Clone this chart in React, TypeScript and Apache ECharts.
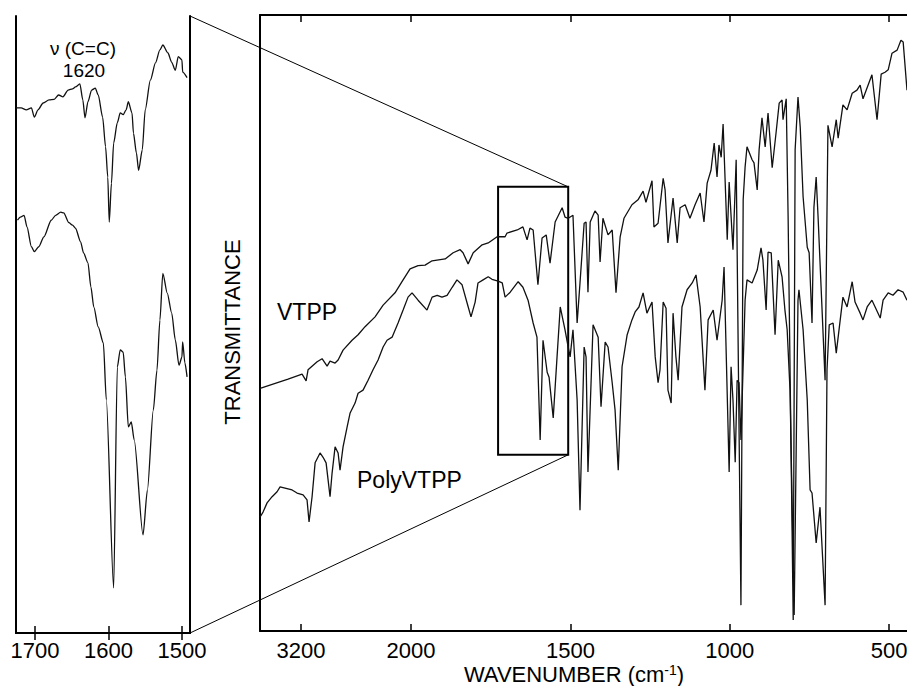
import { useEffect, useRef } from 'react';
import * as echarts from 'echarts';

// Main spectrum, VTPP (wavenumber cm-1, transmittance in % of frame height)
const vtppWn = [3647,3342,3189,3145,3124,3025,2971,2916,2884,2829,2796,2742,2644,2578,2502,2393,2305,2175,2087,2011,1978,1956,1934,1893,1868,1846,1837,1821,1805,1777,1758,1730,1705,1699,1667,1649,1636,1627,1617,1602,1589,1576,1564,1548,1526,1517,1507,1492,1479,1470,1457,1451,1445,1438,1423,1413,1407,1398,1382,1369,1357,1344,1332,1307,1288,1272,1263,1244,1238,1225,1209,1203,1194,1178,1165,1156,1140,1125,1109,1093,1081,1071,1059,1049,1040,1034,1027,1021,1008,1002,990,980,965,958,952,946,930,924,914,908,899,889,880,867,855,845,836,833,823,817,801,795,786,779,770,757,751,742,736,729,723,701,692,679,666,660,645,632,616,601,591,582,554,538,525,513,503,491,475,463,456,444];
const vtppT = [39.4,40.9,41.7,40.6,42.4,43.7,44.2,43.0,43.8,43.5,44.0,45.6,47.2,48.1,49.4,51.0,52.9,54.9,57.0,58.8,59.3,59.4,60.1,60.4,61.4,61.9,61.4,59.6,61.4,62.7,63.0,64.0,64.0,64.6,65.1,65.6,63.5,65.4,65.1,56.2,63.8,64.3,59.7,66.4,68.7,67.2,67.0,67.5,50.0,56.5,66.2,66.4,55.0,66.4,68.2,67.5,59.9,67.0,64.3,65.1,54.9,64.0,67.0,69.2,70.0,71.4,69.6,73.1,65.6,66.2,73.5,71.6,63.0,70.3,63.0,68.7,69.2,67.0,69.2,71.1,66.4,72.7,74.8,79.2,73.7,78.9,76.9,82.3,63.5,72.9,61.9,76.5,4.2,70.0,75.3,78.6,76.5,76.0,71.6,78.1,83.3,78.6,84.1,75.2,80.8,85.7,86.2,83.0,86.4,67.2,1.8,78.1,86.7,81.8,70.5,62.3,61.4,50.0,68.8,73.7,67.2,40.7,82.1,78.6,83.0,80.0,85.4,84.6,87.3,87.8,88.6,86.4,90.3,83.0,90.4,90.7,91.1,93.8,94.3,95.9,95.6,87.8];

// Main spectrum, PolyVTPP
const polyWn = [3647,3615,3571,3516,3462,3429,3375,3298,3244,3178,3135,3113,3080,3047,2993,2960,2927,2905,2884,2862,2829,2796,2775,2742,2698,2665,2611,2578,2524,2469,2415,2360,2305,2262,2207,2142,2087,2033,1997,1978,1950,1934,1918,1903,1887,1871,1856,1840,1824,1812,1799,1790,1774,1758,1746,1727,1714,1705,1689,1664,1649,1633,1617,1605,1595,1586,1573,1567,1554,1542,1532,1517,1507,1501,1492,1479,1470,1457,1451,1445,1429,1413,1404,1391,1382,1369,1360,1350,1338,1322,1307,1297,1285,1272,1260,1244,1234,1225,1219,1209,1200,1194,1184,1178,1169,1162,1150,1134,1118,1106,1093,1078,1068,1052,1040,1024,1018,1002,996,990,983,977,971,965,952,946,930,914,902,896,886,880,870,858,848,836,827,820,811,798,786,783,770,757,748,742,729,717,701,695,688,676,666,660,645,632,616,607,591,582,569,554,544,528,519,503,488,472,456,444];
const polyT = [18.5,19.3,20.8,21.8,22.6,23.4,23.2,22.9,22.4,22.1,21.3,17.7,21.8,27.3,28.9,28.2,27.3,24.5,21.8,25.6,29.9,28.9,26.1,29.9,33.1,35.4,37.0,38.6,39.1,40.7,42.4,44.0,46.1,47.2,47.7,50.0,52.1,54.2,54.9,53.7,52.1,54.2,54.5,54.2,54.5,55.8,57.0,56.2,53.2,51.0,53.4,56.5,57.0,57.5,57.1,56.8,56.5,54.2,55.0,56.7,55.8,53.7,50.0,47.7,31.0,47.2,42.0,41.2,34.6,44.5,52.6,48.9,46.1,44.5,48.9,37.5,19.6,46.1,44.5,25.8,49.7,47.7,36.4,46.9,46.1,40.3,35.9,26.1,42.9,48.1,50.5,51.8,52.6,54.9,51.6,53.4,44.5,40.3,42.4,53.4,52.4,39.1,37.0,51.6,44.5,40.7,52.6,55.4,56.5,57.8,52.6,39.1,50.5,52.1,47.2,53.7,59.1,25.8,42.9,37.5,27.4,40.7,40.3,31.0,53.7,57.0,56.5,58.6,62.2,60.2,52.1,61.5,61.4,48.1,60.2,57.5,52.1,48.9,39.1,2.6,53.7,55.4,48.9,37.5,22.9,22.4,14.3,20.1,4.2,42.4,49.7,50.0,45.1,47.7,54.2,52.6,56.7,53.4,51.6,50.5,52.6,53.7,52.6,50.8,53.7,54.9,54.5,55.4,55.0,53.7];

// Inset (1700-1500 cm-1), VTPP
const insetVtppWn = [1726,1719,1712,1705,1701,1696,1689,1681,1674,1668,1662,1655,1649,1645,1639,1635,1632,1628,1623,1618,1614,1608,1604,1601,1599,1596,1593,1588,1584,1580,1576,1573,1568,1566,1562,1559,1554,1550,1543,1536,1530,1526,1519,1514,1509,1505,1500,1499,1493];
const insetVtppT = [85.1,85.1,84.8,85.1,83.6,84.8,85.9,86.4,86.5,87.2,86.9,88.0,88.2,88.5,89.0,86.4,83.5,86.1,88.0,88.3,87.2,83.6,78.8,73.9,66.6,72.9,79.4,82.7,84.3,84.0,84.8,86.1,84.3,81.0,77.8,75.0,78.3,84.8,89.6,92.4,94.5,95.3,94.0,92.5,91.2,93.4,92.9,90.9,90.0];

// Inset, PolyVTPP
const insetPolyWn = [1724,1720,1715,1711,1705,1701,1695,1688,1678,1672,1665,1661,1654,1649,1645,1638,1634,1628,1624,1620,1614,1607,1603,1593,1588,1584,1580,1577,1573,1569,1565,1553,1547,1539,1534,1530,1526,1520,1514,1509,1504,1500,1499,1496,1493];
const insetPolyT = [66.9,67.4,67.7,65.8,62.6,61.8,62.6,64.2,66.9,67.7,68.2,68.1,66.5,66.1,65.6,63.4,61.6,60.0,56.1,52.8,49.6,47.0,37.8,7.3,43.1,45.9,45.5,41.5,33.4,34.2,31.3,15.9,23.2,36.1,42.6,50.7,58.3,55.1,51.9,47.5,43.4,44.7,47.2,43.8,41.5];

const mainTicks = [3200, 2000, 1500, 1000, 500];
const insetTicks = [1700, 1600, 1500];
const boxWn = [1727, 1507];
const boxT = [72.1, 28.6];

// Spectrometer chart scale: above 2000 cm-1 the abscissa is compressed
const K = 0.2876;
const toU = (w: number) => (w > 2000 ? 2000 + (w - 2000) * K : w);
const fromU = (u: number) => (u > 2000 ? 2000 + (u - 2000) / K : u);

const FONT = 'Liberation Sans, Arial, Helvetica, sans-serif';

export default function App() {
  const ref = useRef<HTMLDivElement>(null);
  useEffect(() => {
    if (!ref.current) return;
    const chart = echarts.init(ref.current, null, { renderer: 'svg' });
    const frame = { show: true, lineStyle: { color: '#000', width: 2 } };
    const tick = (vals: number[]) => ({ show: true, inside: true, length: 7, customValues: vals, lineStyle: { color: '#000', width: 1.5 } });
    const noLabel = { show: false };
    const lbl = (vals: number[], fmt: (v: number) => string, margin: number) => ({
      show: true, customValues: vals, formatter: fmt, color: '#000', fontSize: 22, lineHeight: 22, fontFamily: FONT, margin,
    });
    const mainTickU = mainTicks.map(toU);
    const mainFmt = (v: number) => String(Math.round(fromU(v) / 100) * 100);
    const insetFmt = (v: number) => String(Math.round(v));
    const lineStyle = { color: '#111', width: 1.3 };
    const texts: any[] = [
      { type: 'text', id: 't1', x: 232, y: 332, rotation: Math.PI / 2, style: { text: 'TRANSMITTANCE', font: `22px ${FONT}`, fill: '#000', align: 'center', verticalAlign: 'middle', textAlign: 'center', textVerticalAlign: 'middle' } },
      { type: 'text', id: 't2', x: 277, y: 312, style: { text: 'VTPP', font: `23px ${FONT}`, fill: '#000', align: 'left', verticalAlign: 'middle', textAlign: 'left', textVerticalAlign: 'middle' } },
      { type: 'text', id: 't3', x: 357, y: 480, style: { text: 'PolyVTPP', font: `23px ${FONT}`, fill: '#000', align: 'left', verticalAlign: 'middle', textAlign: 'left', textVerticalAlign: 'middle' } },
      { type: 'text', id: 't4', x: 83, y: 48, style: { text: 'ν (C=C)', font: `19px ${FONT}`, fill: '#000', align: 'center', verticalAlign: 'middle', textAlign: 'center', textVerticalAlign: 'middle' } },
      { type: 'text', id: 't5', x: 84, y: 70, style: { text: '1620', font: `19px ${FONT}`, fill: '#000', align: 'center', verticalAlign: 'middle', textAlign: 'center', textVerticalAlign: 'middle' } },
      { type: 'text', id: 't6', x: 574, y: 674, style: { text: '{a|WAVENUMBER (cm}{s|-1}{a|)}', rich: { a: { fontSize: 22, fontFamily: FONT, fill: '#000', lineHeight: 22 }, s: { fontSize: 14, fontFamily: FONT, fill: '#000', verticalAlign: 'top', lineHeight: 14 } }, align: 'center', verticalAlign: 'middle', textAlign: 'center', textVerticalAlign: 'middle' } },
    ];
    const option: any = {
      animation: false,
      backgroundColor: '#fff',
      grid: [
        { left: 260, right: 0, top: 15, bottom: 55, containLabel: false, outerBoundsMode: 'none' },
        { left: 16, width: 174, top: 16, bottom: 53, containLabel: false, outerBoundsMode: 'none' },
      ],
      xAxis: [
        { type: 'value', gridIndex: 0, position: 'bottom', inverse: true, min: 444, max: 2474, axisLine: frame, axisTick: tick(mainTickU), axisLabel: lbl(mainTickU, mainFmt, 8), splitLine: { show: false } },
        { type: 'value', gridIndex: 0, position: 'top', inverse: true, min: 444, max: 2474, axisLine: frame, axisTick: tick(mainTickU), axisLabel: noLabel, splitLine: { show: false } },
        { type: 'value', gridIndex: 1, position: 'bottom', inverse: true, min: 1489, max: 1726, axisLine: frame, axisTick: tick(insetTicks), axisLabel: lbl(insetTicks, insetFmt, 6), splitLine: { show: false } },
        { type: 'value', gridIndex: 1, position: 'top', inverse: true, min: 1489, max: 1726, axisLine: frame, axisTick: tick(insetTicks), axisLabel: noLabel, splitLine: { show: false } },
      ],
      yAxis: [
        { type: 'value', gridIndex: 0, position: 'left', min: 0, max: 100, axisLine: frame, axisTick: { show: false }, axisLabel: noLabel, splitLine: { show: false } },
        { type: 'value', gridIndex: 1, position: 'left', min: 0, max: 100, axisLine: frame, axisTick: { show: false }, axisLabel: noLabel, splitLine: { show: false } },
        { type: 'value', gridIndex: 1, position: 'right', min: 0, max: 100, axisLine: frame, axisTick: { show: false }, axisLabel: noLabel, splitLine: { show: false } },
      ],
      series: [
        {
          type: 'line', name: 'VTPP', xAxisIndex: 0, yAxisIndex: 0, showSymbol: false, lineStyle, data: vtppWn.map((w, i) => [toU(w), vtppT[i]]),
          markArea: { silent: true, label: { show: false }, itemStyle: { color: 'rgba(0,0,0,0)', borderColor: '#000', borderWidth: 2 }, data: [[{ coord: [toU(boxWn[0]), boxT[0]] }, { coord: [toU(boxWn[1]), boxT[1]] }]] },
        },
        { type: 'line', name: 'PolyVTPP', xAxisIndex: 0, yAxisIndex: 0, showSymbol: false, lineStyle, data: polyWn.map((w, i) => [toU(w), polyT[i]]) },
        { type: 'line', name: 'VTPP inset', xAxisIndex: 2, yAxisIndex: 1, showSymbol: false, smooth: 0.25, smoothMonotone: 'x', lineStyle, data: insetVtppWn.map((w, i) => [w, insetVtppT[i]]) },
        { type: 'line', name: 'PolyVTPP inset', xAxisIndex: 2, yAxisIndex: 1, showSymbol: false, smooth: 0.25, smoothMonotone: 'x', lineStyle, data: insetPolyWn.map((w, i) => [w, insetPolyT[i]]) },
      ],
      graphic: texts,
    };
    chart.setOption(option);
    const tr = chart.convertToPixel({ seriesIndex: 0 }, [toU(boxWn[1]), boxT[0]]) as number[];
    const br = chart.convertToPixel({ seriesIndex: 0 }, [toU(boxWn[1]), boxT[1]]) as number[];
    const itr = chart.convertToPixel({ seriesIndex: 2 }, [1489, 100]) as number[];
    const ibr = chart.convertToPixel({ seriesIndex: 2 }, [1489, 0]) as number[];
    chart.setOption({
      graphic: [
        ...texts,
        { type: 'line', id: 'c1', z: 10, shape: { x1: itr[0], y1: itr[1], x2: tr[0], y2: tr[1] }, style: { stroke: '#000', lineWidth: 1 } },
        { type: 'line', id: 'c2', z: 10, shape: { x1: ibr[0], y1: ibr[1], x2: br[0], y2: br[1] }, style: { stroke: '#000', lineWidth: 1 } },
      ],
    });
    return () => chart.dispose();
  }, []);
  return <div ref={ref} style={{ position: 'fixed', left: 0, top: 0, width: 907, height: 686, background: '#fff' }} />;
}
